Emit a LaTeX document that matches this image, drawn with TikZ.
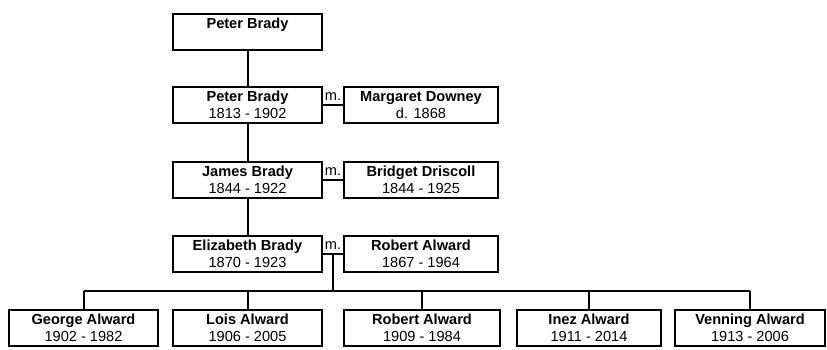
\documentclass[tikz,border=0pt]{standalone}
\usepackage{fontspec}
\setmainfont{Liberation Sans}
\usetikzlibrary{calc, positioning}

\tikzset{
  person/.style={draw, line width=2.4pt, minimum width=#1, minimum height=36pt,
    inner sep=0pt, align=center, font=\fontsize{14.6}{16.7}\selectfont},
  person/.default=149pt,
  link/.style={line width=2pt},
  wedlabel/.style={above, inner sep=4pt, font=\fontsize{14.6}{16.7}\selectfont}
}

\begin{document}
\begin{tikzpicture}[x=1pt, y=-1pt]
\useasboundingbox (0,0) rectangle (827,350);
  % ancestors and spouses
\node[person] (pb0) at (247.5,32) {\textbf{Peter Brady}\\ \mbox{}};
\node[person] (pb) at (247.5,105) {\textbf{Peter Brady}\\ 1813 - 1902};
\node[person=154pt] (md) at (421,105) {\textbf{Margaret Downey}\\ d. 1868};
\node[person] (jb) at (247.5,180) {\textbf{James Brady}\\ 1844 - 1922};
\node[person=154pt] (bd) at (421,180) {\textbf{Bridget Driscoll}\\ 1844 - 1925};
\node[person] (eb) at (247.5,254) {\textbf{Elizabeth Brady}\\ 1870 - 1923};
\node[person=154pt] (ra) at (421,254) {\textbf{Robert Alward}\\ 1867 - 1964};
  % children
\node[person] (ga) at (83.5,328) {\textbf{George Alward}\\ 1902 - 1982};
\node[person] (la) at (247.5,328) {\textbf{Lois Alward}\\ 1906 - 2005};
\node[person=156pt] (rb) at (422,328) {\textbf{Robert Alward}\\ 1909 - 1984};
\node[person=144pt] (ia) at (589,328) {\textbf{Inez Alward}\\ 1911 - 2014};
\node[person=150pt] (va) at (750,328) {\textbf{Venning Alward}\\ 1913 - 2006};

\draw[link] (pb0) -- (pb);
\draw[link] (pb) -- (jb);
\draw[link] (jb) -- (eb);
\draw[link] (pb) -- (md);
\draw[link] (jb) -- (bd);
\draw[link] (eb) -- (ra);
\node[wedlabel] (m1) at ($(pb.east)!.5!(md.west)$) {m.};
\node[wedlabel] (m2) at ($(jb.east)!.5!(bd.west)$) {m.};
\node[wedlabel] (m3) at ($(eb.east)!.5!(ra.west)$) {m.};

\coordinate (wed) at ($(eb.east)!.5!(ra.west)$);
\coordinate (bus) at (wed |- 0,291);
\draw[link] (wed) -- (bus);
\draw[link] (ga.north |- bus) -- (va.north |- bus);
\foreach \kid in {ga,la,rb,ia,va}
  \draw[link] (\kid.north |- bus) -- (\kid);
\end{tikzpicture}
\end{document}
